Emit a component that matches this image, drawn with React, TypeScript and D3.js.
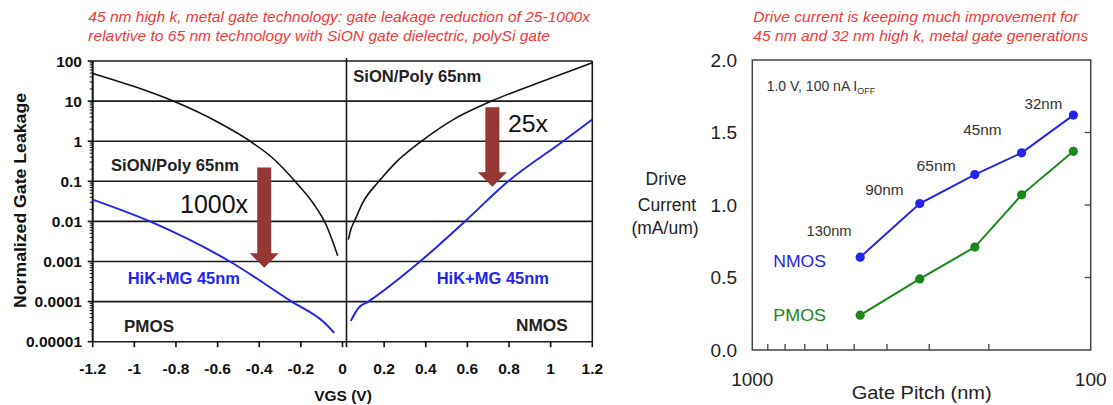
import React from "react";
import * as d3 from "d3";

const FONT = "'Liberation Sans', Arial, sans-serif";

// ---- left chart: normalized gate leakage vs VGS (log y) ----
const leakTicks = [100, 10, 1, 0.1, 0.01, 0.001, 0.0001, 0.00001];
const leakTickLabels = ["100", "10", "1", "0.1", "0.01", "0.001", "0.0001", "0.00001"];
const vgsTicks = [-1.2, -1, -0.8, -0.6, -0.4, -0.2, 0, 0.2, 0.4, 0.6, 0.8, 1, 1.2];

// SiON/Poly 65nm, PMOS side
const sionPmosVgs = [-1.2, -1.0, -0.813, -0.6, -0.444, -0.333, -0.228, -0.14, -0.08, -0.023];
const sionPmosLeak = [49, 23, 10, 3.0, 1.0, 0.37, 0.1, 0.028, 0.0085, 0.0014];
// SiON/Poly 65nm, NMOS side
const sionNmosVgs = [0.028, 0.04, 0.057, 0.1, 0.175, 0.252, 0.38, 0.53, 0.716, 1.0, 1.2];
const sionNmosLeak = [0.0035, 0.0063, 0.01, 0.031, 0.1, 0.28, 1.0, 3.4, 10, 37, 91];
// HiK+MG 45nm, PMOS side
const hikPmosVgs = [-1.2, -0.925, -0.541, -0.244, -0.09, -0.04];
const hikPmosLeak = [0.035, 0.01, 0.001, 0.0001, 0.000031, 0.0000166];
// HiK+MG 45nm, NMOS side
const hikNmosVgs = [0.04, 0.075, 0.124, 0.372, 0.588, 0.796, 1.06, 1.2];
const hikNmosLeak = [0.000033, 0.000068, 0.0001, 0.001, 0.01, 0.1, 1.0, 3.5];

// reduction arrows: [vgs, from, to]
const arrowVgs = [-0.376, 0.72];
const arrowFrom = [0.22, 7];
const arrowTo = [0.0007, 0.073];

// ---- right chart: drive current vs gate pitch ----
const pitchNm = [480, 320, 220, 160, 112.5];
const nmosDrive = [0.64, 1.01, 1.21, 1.36, 1.62];
const pmosDrive = [0.24, 0.49, 0.71, 1.07, 1.37];
const nodeLabels = ["130nm", "90nm", "65nm", "45nm", "32nm"];
const nodeLabelPitch = [593, 407, 286, 209, 138];
const nodeLabelDrive = [0.786, 1.069, 1.234, 1.483, 1.662];
const nodeLabelWidth = [45, 38.3, 39.3, 38.4, 37.7];
const driveTicks = [0, 0.5, 1.0, 1.5, 2.0];
const pitchMinorTicks = [900, 800, 700, 600, 500, 400, 300, 200];

const RED_TITLE = "#f03a3a";
const BLUE = "#2424ee";
const GREEN = "#1b861b";
const ARROW = "#953735";

const zip = (xs: number[], ys: number[]) => xs.map((x, i) => [x, ys[i]] as [number, number]);

const LeakageChart = () => {
  const x = d3.scaleLinear().domain([-1.2, 1.2]).range([92.7, 592.3]);
  const y = d3.scaleLog().domain([0.00001, 100]).range([341.7, 61]);
  const smooth = d3
    .line<[number, number]>()
    .x((d) => x(d[0]))
    .y((d) => y(d[1]))
    .curve(d3.curveMonotoneX);

  const minor: number[] = [];
  for (let e = -5; e < 2; e++) for (let k = 2; k < 10; k++) minor.push(k * Math.pow(10, e));

  const dividerX = x(0) + 4;
  const bold = { fontFamily: FONT, fontWeight: 700 } as const;

  return (
    <g>
      <text x={88.3} y={21.5} fontFamily={FONT} fontStyle="italic" fontSize={14} fill={RED_TITLE}
        textLength={501.7} lengthAdjust="spacingAndGlyphs">
        45 nm high k, metal gate technology: gate leakage reduction of 25-1000x
      </text>
      <text x={88.3} y={40.5} fontFamily={FONT} fontStyle="italic" fontSize={14} fill={RED_TITLE}
        textLength={461.7} lengthAdjust="spacingAndGlyphs">
        relavtive to 65 nm technology with SiON gate dielectric, polySi gate
      </text>

      {/* grid */}
      {leakTicks.map((t) => (
        <line key={"g" + t} x1={x(-1.2)} x2={x(1.2)} y1={y(t)} y2={y(t)} stroke="#1a1a1a" strokeWidth={1.6} />
      ))}
      <line x1={x(-1.2)} x2={x(-1.2)} y1={y(100)} y2={y(0.00001)} stroke="#111" strokeWidth={2} />
      <line x1={x(1.2)} x2={x(1.2)} y1={y(100)} y2={y(0.00001)} stroke="#1a1a1a" strokeWidth={1.6} />
      <line x1={dividerX} x2={dividerX} y1={58} y2={y(0.00001)} stroke="#1a1a1a" strokeWidth={1.6} />

      {/* y ticks */}
      {leakTicks.map((t) => (
        <line key={"yt" + t} x1={x(-1.2) - 5} x2={x(-1.2)} y1={y(t)} y2={y(t)} stroke="#111" strokeWidth={1.6} />
      ))}
      {minor.map((t) => (
        <line key={"ym" + t} x1={x(-1.2) - 3} x2={x(-1.2)} y1={y(t)} y2={y(t)} stroke="#111" strokeWidth={1} />
      ))}
      {leakTicks.map((t, i) => (
        <text key={"yl" + t} x={82} y={y(t) + 5.5} textAnchor="end" fontSize={15.5} fill="#111" {...bold}>
          {leakTickLabels[i]}
        </text>
      ))}

      {/* x ticks */}
      {vgsTicks.map((t) => (
        <line key={"xt" + t} x1={x(t)} x2={x(t)} y1={y(0.00001)} y2={y(0.00001) + 5.5} stroke="#111" strokeWidth={1.6} />
      ))}
      <line x1={dividerX} x2={dividerX} y1={y(0.00001)} y2={y(0.00001) + 5.5} stroke="#111" strokeWidth={1.6} />
      {vgsTicks.map((t) => (
        <text key={"xl" + t} x={x(t)} y={374} textAnchor="middle" fontSize={15.5} fill="#111" {...bold}>
          {String(t)}
        </text>
      ))}
      <text x={343} y={401} textAnchor="middle" fontSize={15.5} fill="#111" {...bold}>VGS (V)</text>
      <text transform="translate(25.5,200.5) rotate(-90)" textAnchor="middle" fontSize={17} fill="#111"
        textLength={215} lengthAdjust="spacingAndGlyphs" {...bold}>
        Normalized Gate Leakage
      </text>

      {/* curves */}
      <path d={smooth(zip(sionPmosVgs, sionPmosLeak)) || ""} fill="none" stroke="#111" strokeWidth={1.6} />
      <path d={smooth(zip(sionNmosVgs, sionNmosLeak)) || ""} fill="none" stroke="#111" strokeWidth={1.6} />
      <path d={smooth(zip(hikPmosVgs, hikPmosLeak)) || ""} fill="none" stroke={BLUE} strokeWidth={2} />
      <path d={smooth(zip(hikNmosVgs, hikNmosLeak)) || ""} fill="none" stroke={BLUE} strokeWidth={2} />

      {/* arrows */}
      {arrowVgs.map((v, i) => {
        const cx = x(v);
        const top = y(arrowFrom[i]);
        const tip = y(arrowTo[i]);
        const hb = tip - 14.5;
        const pts = [
          [cx - 7, top], [cx + 7, top], [cx + 7, hb], [cx + 14.5, hb],
          [cx, tip], [cx - 14.5, hb], [cx - 7, hb],
        ].map((p) => p.join(",")).join(" ");
        return <polygon key={"a" + i} points={pts} fill={ARROW} />;
      })}

      {/* annotations */}
      <text x={111} y={171} fontSize={16.5} fill="#222" textLength={128} lengthAdjust="spacingAndGlyphs" {...bold}>SiON/Poly 65nm</text>
      <text x={353.3} y={81.5} fontSize={16.5} fill="#222" textLength={128} lengthAdjust="spacingAndGlyphs" {...bold}>SiON/Poly 65nm</text>
      <text x={127.7} y={283.5} fontSize={16} fill={BLUE} textLength={112.3} lengthAdjust="spacingAndGlyphs" {...bold}>HiK+MG 45nm</text>
      <text x={436.7} y={283.5} fontSize={16} fill={BLUE} textLength={112.3} lengthAdjust="spacingAndGlyphs" {...bold}>HiK+MG 45nm</text>
      <text x={124} y={332} fontSize={17} fill="#222" textLength={50} lengthAdjust="spacingAndGlyphs" {...bold}>PMOS</text>
      <text x={516} y={331} fontSize={17} fill="#222" textLength={51.7} lengthAdjust="spacingAndGlyphs" {...bold}>NMOS</text>
      <text x={180} y={212.5} fontFamily={FONT} fontSize={25} fill="#111" textLength={68} lengthAdjust="spacingAndGlyphs">1000x</text>
      <text x={508} y={131.5} fontFamily={FONT} fontSize={24} fill="#111" textLength={40} lengthAdjust="spacingAndGlyphs">25x</text>
    </g>
  );
};

const DriveChart = () => {
  const x = d3.scaleLog().domain([1000, 100]).range([752.3, 1090.7]);
  const y = d3.scaleLinear().domain([0, 2]).range([350, 60]);
  const line = d3
    .line<[number, number]>()
    .x((d) => x(d[0]))
    .y((d) => y(d[1]));
  const nmos = zip(pitchNm, nmosDrive);
  const pmos = zip(pitchNm, pmosDrive);
  const txt = { fontFamily: FONT } as const;

  return (
    <g>
      <text x={753.3} y={21.5} fontFamily={FONT} fontStyle="italic" fontSize={14} fill={RED_TITLE}
        textLength={325} lengthAdjust="spacingAndGlyphs">
        Drive current is keeping much improvement for
      </text>
      <text x={753.3} y={40.5} fontFamily={FONT} fontStyle="italic" fontSize={14} fill={RED_TITLE}
        textLength={335} lengthAdjust="spacingAndGlyphs">
        45 nm and 32 nm high k, metal gate generations
      </text>

      <rect x={x(1000)} y={y(2)} width={x(100) - x(1000)} height={y(0) - y(2)} fill="none" stroke="#444" strokeWidth={1.5} />
      {pitchMinorTicks.map((p) => (
        <line key={"px" + p} x1={x(p)} x2={x(p)} y1={y(0)} y2={y(0) - 6} stroke="#444" strokeWidth={1.3} />
      ))}
      {driveTicks.slice(1, -1).map((t) => (
        <line key={"dy" + t} x1={x(100)} x2={x(100) - 6} y1={y(t)} y2={y(t)} stroke="#444" strokeWidth={1.3} />
      ))}
      {driveTicks.map((t) => (
        <text key={"dl" + t} x={737} y={y(t) + 6.7} textAnchor="end" fontSize={19} fill="#222" {...txt}>
          {t.toFixed(1)}
        </text>
      ))}
      <text x={x(1000)} y={386} textAnchor="middle" fontSize={19} fill="#222" {...txt}>1000</text>
      <text x={x(100)} y={386} textAnchor="middle" fontSize={19} fill="#222" {...txt}>100</text>
      <text x={921.7} y={398.5} textAnchor="middle" fontSize={18.5} fill="#222" textLength={140}
        lengthAdjust="spacingAndGlyphs" {...txt}>Gate Pitch (nm)</text>
      <text x={666} y={185} textAnchor="middle" fontSize={17.5} fill="#222" {...txt}>Drive</text>
      <text x={667} y={210.5} textAnchor="middle" fontSize={17.5} fill="#222" {...txt}>Current</text>
      <text x={665} y={234} textAnchor="middle" fontSize={17.5} fill="#222" {...txt}>(mA/um)</text>

      <text x={766.7} y={91} fontSize={14} fill="#333" {...txt}>
        1.0 V, 100 nA I<tspan fontSize={9} dy={3}>OFF</tspan>
      </text>

      <path d={line(nmos) || ""} fill="none" stroke={BLUE} strokeWidth={2} />
      <path d={line(pmos) || ""} fill="none" stroke={GREEN} strokeWidth={2} />
      {nmos.map((d, i) => (
        <circle key={"n" + i} cx={x(d[0])} cy={y(d[1])} r={4.6} fill={BLUE} />
      ))}
      {pmos.map((d, i) => (
        <circle key={"p" + i} cx={x(d[0])} cy={y(d[1])} r={4.6} fill={GREEN} />
      ))}
      {nodeLabels.map((n, i) => (
        <text key={n} x={x(nodeLabelPitch[i])} y={y(nodeLabelDrive[i])} textAnchor="middle" fontSize={14}
          fill="#333" textLength={nodeLabelWidth[i]} lengthAdjust="spacingAndGlyphs" {...txt}>
          {n}
        </text>
      ))}
      <text x={773.3} y={267} fontSize={17} fill={BLUE} textLength={52.7} lengthAdjust="spacingAndGlyphs" {...txt}>NMOS</text>
      <text x={773.3} y={321} fontSize={17} fill={GREEN} textLength={52.7} lengthAdjust="spacingAndGlyphs" {...txt}>PMOS</text>
    </g>
  );
};

export default function App() {
  return (
    <svg width={1113} height={405} style={{ position: "absolute", left: 0, top: 0, background: "#fff" }}>
      <LeakageChart />
      <DriveChart />
    </svg>
  );
}
